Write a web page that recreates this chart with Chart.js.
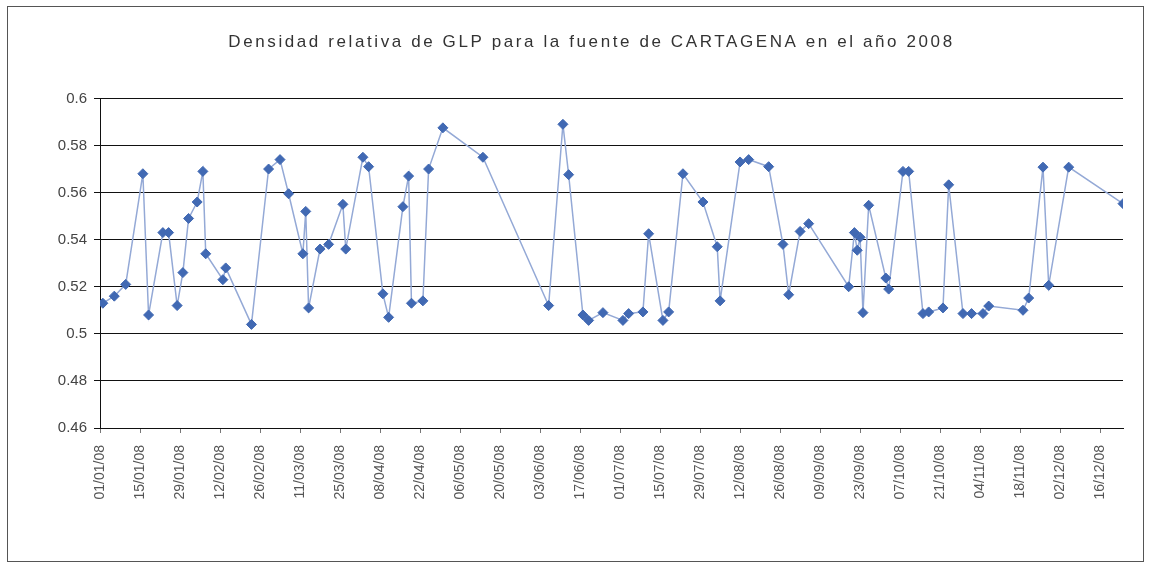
<!DOCTYPE html>
<html>
<head>
<meta charset="utf-8">
<script src="https://cdn.jsdelivr.net/npm/chart.js@4.4.1/dist/chart.umd.min.js"></script>
<style>
  html, body { margin: 0; padding: 0; background: #fff; }
  #wrap { width: 1149px; height: 567px; position: relative; }
</style>
</head>
<body>
<div id="wrap"><canvas id="c" width="1149" height="567"></canvas></div>
<script>
// ---- data ----
const titleText = "Densidad relativa de GLP para la fuente de CARTAGENA en el año 2008";
const dates = [
  "02/01/08","06/01/08","10/01/08","16/01/08","18/01/08","23/01/08","25/01/08","28/01/08","30/01/08",
  "01/02/08","04/02/08","06/02/08","07/02/08","13/02/08","14/02/08","23/02/08","29/02/08",
  "04/03/08","07/03/08","12/03/08","13/03/08","14/03/08","18/03/08","21/03/08","26/03/08","27/03/08",
  "02/04/08","04/04/08","09/04/08","11/04/08","16/04/08","18/04/08","19/04/08","23/04/08","25/04/08","30/04/08",
  "14/05/08",
  "06/06/08","11/06/08","13/06/08","18/06/08","20/06/08","25/06/08",
  "02/07/08","04/07/08","09/07/08","11/07/08","16/07/08","18/07/08","23/07/08","30/07/08",
  "04/08/08","05/08/08","12/08/08","15/08/08","22/08/08","27/08/08","29/08/08",
  "02/09/08","05/09/08","19/09/08","21/09/08","22/09/08","23/09/08","24/09/08","26/09/08",
  "02/10/08","03/10/08","08/10/08","10/10/08","15/10/08","17/10/08","22/10/08","24/10/08","29/10/08",
  "01/11/08","05/11/08","07/11/08","19/11/08","21/11/08","26/11/08","28/11/08",
  "05/12/08","24/12/08"
];
const densidad = [
  0.513,0.516,0.521,0.568,0.508,0.543,0.543,0.512,0.526,
  0.549,0.556,0.569,0.534,0.523,0.528,0.504,0.570,
  0.574,0.5595,0.534,0.552,0.511,0.536,0.538,0.555,0.536,
  0.575,0.571,0.517,0.507,0.554,0.567,0.513,0.514,0.570,0.5875,
  0.575,
  0.512,0.589,0.5676,0.508,0.5057,0.509,
  0.5057,0.5086,0.5093,0.5425,0.5057,0.5093,0.568,0.556,
  0.537,0.514,0.573,0.574,0.571,0.538,0.5166,
  0.5435,0.5468,0.520,0.543,0.5355,0.541,0.509,0.5546,
  0.5237,0.519,0.569,0.569,0.5086,0.5093,0.511,0.5633,0.5086,
  0.5086,0.5086,0.5118,0.510,0.5152,0.5708,0.5206,
  0.5708,0.5553
];
const yTicks = [0.46, 0.48, 0.5, 0.52, 0.54, 0.56, 0.58, 0.6];
const yTickLabels = ["0.46", "0.48", "0.5", "0.52", "0.54", "0.56", "0.58", "0.6"];
const axisStart = "01/01/08";
const tickStepDays = 14;

// ---- helpers ----
const DAY = 86400000;
function parseD(s) { const [d, m, y] = s.split("/").map(Number); return Date.UTC(2000 + y, m - 1, d); }
const t0 = parseD(axisStart);
function dayOf(s) { return Math.round((parseD(s) - t0) / DAY); }
function fmt(day) {
  const dt = new Date(t0 + day * DAY);
  const dd = String(dt.getUTCDate()).padStart(2, "0");
  const mm = String(dt.getUTCMonth() + 1).padStart(2, "0");
  const yy = String(dt.getUTCFullYear() % 100).padStart(2, "0");
  return dd + "/" + mm + "/" + yy;
}
const points = dates.map((d, i) => ({ x: dayOf(d), y: densidad[i] }));
const maxDay = dayOf(dates[dates.length - 1]);

const frame = {
  id: "frame",
  beforeDraw(chart) {
    const ctx = chart.ctx;
    ctx.save();
    ctx.fillStyle = "#fff";
    ctx.fillRect(0, 0, chart.width, chart.height);
    ctx.strokeStyle = "#555";
    ctx.lineWidth = 1;
    ctx.strokeRect(7.5, 6.5, 1136, 555);
    ctx.restore();
  }
};

const chart = new Chart(document.getElementById("c"), {
  type: "line",
  data: {
    datasets: [{
      data: points,
      borderColor: "#94a9d6",
      borderWidth: 1.5,
      pointStyle: "rectRot",
      pointRadius: 5,
      pointBackgroundColor: "#4169b3",
      pointBorderColor: "#4169b3",
      pointBorderWidth: 1,
      tension: 0
    }]
  },
  plugins: [frame],
  options: {
    responsive: false,
    animation: false,
    layout: { padding: { left: 0, right: 26, top: 0, bottom: 0 } },
    plugins: {
      legend: { display: false },
      tooltip: { enabled: false },
      title: {
        display: true,
        text: titleText,
        color: "#333",
        font: { family: "Liberation Sans", size: 17, weight: "normal" },
        padding: { top: 32, bottom: 46 }
      }
    },
    scales: {
      x: {
        type: "linear",
        min: 0,
        max: maxDay,
        afterBuildTicks(scale) {
          const t = [];
          for (let v = 0; v <= maxDay; v += tickStepDays) t.push({ value: v });
          scale.ticks = t;
        },
        afterFit(scale) { scale.height = 139; },
        grid: { drawOnChartArea: false, drawTicks: true, tickLength: 5, color: "#777" },
        border: { display: true, color: "#111", width: 1 },
        ticks: {
          autoSkip: false,
          minRotation: 90,
          maxRotation: 90,
          padding: 12,
          color: "#555",
          font: { family: "Liberation Sans", size: 14 },
          callback: (v) => fmt(v)
        }
      },
      y: {
        min: 0.46,
        max: 0.6,
        afterBuildTicks(scale) { scale.ticks = yTicks.map(v => ({ value: v })); },
        afterFit(scale) { scale.width = 100; },
        grid: { color: "#111", lineWidth: 1, tickLength: 6, drawTicks: true },
        border: { display: true, color: "#111", width: 1 },
        ticks: {
          padding: 7,
          color: "#444",
          font: { family: "Liberation Sans", size: 15 },
          callback: (v) => { const i = yTicks.findIndex(t => Math.abs(t - v) < 1e-9); return i >= 0 ? yTickLabels[i] : ""; }
        }
      }
    }
  }
});

// widen the title like the scanned original (letter spacing, centred over the plot)
const tb = chart.titleBlock;
if (tb) {
  const origDraw = tb.draw.bind(tb);
  tb.draw = function () {
    const c = this.ctx;
    c.save();
    c.translate(30, 0);
    c.letterSpacing = "2.6px";
    origDraw();
    c.restore();
  };
  chart.draw();
}
</script>
</body>
</html>
